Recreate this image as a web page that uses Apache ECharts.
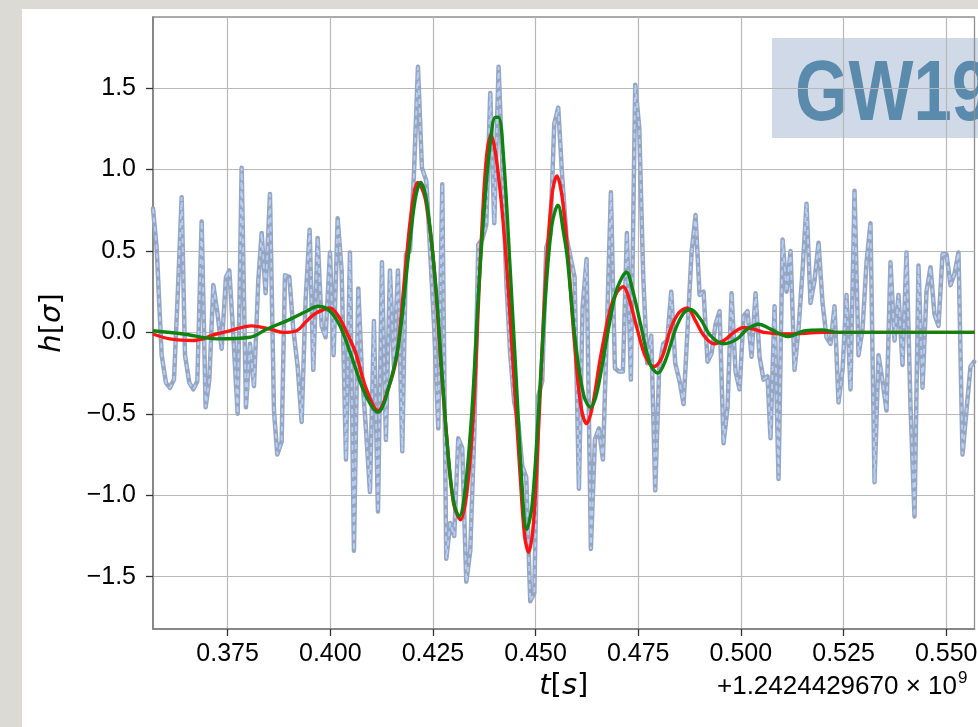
<!DOCTYPE html>
<html>
<head>
<meta charset="utf-8">
<script src="https://cdn.jsdelivr.net/npm/echarts@6/dist/echarts.min.js"></script>
<style>
  html, body { margin: 0; padding: 0; background: #dcdad4; }
  #chart { width: 978px; height: 727px; }
</style>
</head>
<body>
<div id="chart"></div>
<script>
// time offsets [s] (+1.2424429670e9) and whitened strain values
const noiseT = [
  0.35682, 0.35771, 0.35893, 0.35998, 0.36096, 0.36193, 0.36299, 0.36380, 0.36461, 0.36567,
  0.36664, 0.36761, 0.36867, 0.36964, 0.37054, 0.37151, 0.37256, 0.37354, 0.37459, 0.37541,
  0.37638, 0.37744, 0.37841, 0.37946, 0.38044, 0.38141, 0.38247, 0.38328, 0.38425, 0.38531,
  0.38628, 0.38709, 0.38815, 0.38896, 0.39002, 0.39099, 0.39205, 0.39302, 0.39399, 0.39497,
  0.39586, 0.39692, 0.39789, 0.39886, 0.39992, 0.40081, 0.40179, 0.40276, 0.40382, 0.40479,
  0.40576, 0.40682, 0.40771, 0.40868, 0.40966, 0.41063, 0.41161, 0.41258, 0.41355, 0.41453,
  0.41550, 0.41648, 0.41753, 0.41843, 0.41940, 0.42037, 0.42135, 0.42232, 0.42338, 0.42435,
  0.42532, 0.42630, 0.42727, 0.42825, 0.42922, 0.43019, 0.43117, 0.43214, 0.43312, 0.43409,
  0.43507, 0.43604, 0.43701, 0.43799, 0.43896, 0.43994, 0.44099, 0.44188, 0.44286, 0.44383,
  0.44481, 0.44578, 0.44675, 0.44773, 0.44870, 0.44968, 0.45065, 0.45162, 0.45260, 0.45357,
  0.45455, 0.45552, 0.45649, 0.45755, 0.45852, 0.45950, 0.46055, 0.46144, 0.46242, 0.46347,
  0.46445, 0.46542, 0.46640, 0.46737, 0.46834, 0.46932, 0.47029, 0.47127, 0.47224, 0.47321,
  0.47427, 0.47524, 0.47622, 0.47719, 0.47817, 0.47914, 0.48011, 0.48109, 0.48206, 0.48304,
  0.48401, 0.48507, 0.48604, 0.48701, 0.48799, 0.48896, 0.48994, 0.49091, 0.49188, 0.49286,
  0.49383, 0.49481, 0.49578, 0.49675, 0.49773, 0.49870, 0.49968, 0.50065, 0.50162, 0.50260,
  0.50357, 0.50455, 0.50552, 0.50649, 0.50722, 0.50820, 0.50917, 0.51015, 0.51112, 0.51209,
  0.51307, 0.51404, 0.51502, 0.51599, 0.51696, 0.51794, 0.51891, 0.51989, 0.52086, 0.52183,
  0.52281, 0.52378, 0.52476, 0.52573, 0.52670, 0.52768, 0.52865, 0.52963, 0.53060, 0.53157,
  0.53255, 0.53352, 0.53450, 0.53547, 0.53644, 0.53742, 0.53839, 0.53937, 0.54034, 0.54132,
  0.54229, 0.54326, 0.54424, 0.54521, 0.54619, 0.54716, 0.54813, 0.54911, 0.55008, 0.55106,
  0.55203, 0.55300, 0.55398, 0.55495, 0.55593, 0.55682
];
const noiseV = [
  0.76, 0.52, -0.14, -0.31, -0.34, -0.29, 0.32, 0.83, -0.14, -0.31,
  -0.35, -0.30, 0.68, -0.46, -0.29, 0.29, 0.11, -0.10, 0.34, 0.38,
  -0.02, -0.50, 1.01, -0.46, -0.07, -0.33, 0.32, 0.61, 0.24, 0.85,
  -0.48, -0.75, -0.67, 0.35, 0.34, 0.02, -0.21, -0.55, 0.20, 0.63,
  -0.23, 0.58, 0.04, -0.03, 0.49, -0.14, 0.70, 0.38, -0.78, 0.49,
  -1.34, 0.27, -0.25, -0.59, -0.98, 0.07, -1.10, 0.43, -0.66, 0.38,
  -0.21, 0.38, -0.73, 0.48, 0.50, 0.97, 1.63, 1.01, 0.93, 0.48,
  0.02, -0.59, 0.91, -1.39, -1.17, -1.25, -0.65, -0.71, -1.53, -1.34,
  -0.62, 0.54, 0.57, 0.66, 1.47, 0.67, 1.63, 1.04, 0.32, -0.14,
  -0.43, -0.55, -0.82, -0.89, -1.65, -1.60, -0.39, -0.30, 0.52, 0.60,
  1.28, 1.38, 0.95, 0.58, 0.46, 0.34, -0.96, 0.15, 0.45, -1.33,
  -0.66, -0.59, -0.78, 0.02, 0.86, -0.22, -0.24, -0.24, 0.61, -0.29,
  1.52, 1.26, 0.34, -0.19, -0.02, -0.97, -0.22, -0.07, -0.05, 0.25,
  -0.19, -0.30, -0.44, 0.02, 0.49, 0.72, 0.23, 0.25, -0.18, -0.13,
  0.05, 0.13, -0.68, -0.46, 0.24, -0.24, -0.35, 0.10, 0.13, -0.15,
  0.24, -0.15, -0.29, -0.27, -0.65, 0.16, -0.90, 0.57, 0.25, 0.50,
  -0.23, 0.02, 0.38, 0.79, 0.18, 0.32, 0.55, 0.18, -0.03, -0.07,
  0.16, -0.43, -0.23, 0.23, -0.35, 0.87, -0.14, 0.02, 0.43, 0.67,
  -0.92, -0.14, -0.30, -0.48, 0.43, -0.05, 0.23, -0.20, 0.49, -0.46,
  -1.13, 0.41, -0.34, 0.25, 0.40, 0.11, 0.04, 0.48, 0.48, 0.29,
  0.36, 0.49, -0.75, -0.48, -0.21, -0.18
];

const redT = [
  0.35682, 0.36096, 0.36664, 0.37232, 0.37557, 0.38084, 0.38531, 0.38856, 0.39180, 0.39424,
  0.39667, 0.39992, 0.40195, 0.40398, 0.40609, 0.40868, 0.41161, 0.41420, 0.41623, 0.41826,
  0.41989, 0.42135, 0.42313, 0.42516, 0.42679, 0.42841, 0.43003, 0.43174, 0.43328, 0.43490,
  0.43653, 0.43791, 0.43912, 0.44059, 0.44262, 0.44465, 0.44627, 0.44733, 0.44830, 0.44952,
  0.45073, 0.45236, 0.45398, 0.45520, 0.45641, 0.45771, 0.45933, 0.46096, 0.46242, 0.46380,
  0.46583, 0.46826, 0.46989, 0.47135, 0.47273, 0.47476, 0.47679, 0.47882, 0.48084, 0.48287,
  0.48490, 0.48693, 0.48896, 0.49099, 0.49343, 0.49586, 0.49830, 0.50073, 0.50317, 0.50560,
  0.51150, 0.52000, 0.53500, 0.55690
];
const redV = [
  -0.01, -0.04, -0.05, -0.01, 0.01, 0.04, 0.02, 0.00, 0.01, 0.07,
  0.12, 0.15, 0.10, 0.00, -0.12, -0.34, -0.48, -0.34, -0.14, 0.38,
  0.77, 0.92, 0.82, 0.43, -0.14, -0.66, -1.05, -1.15, -0.98, -0.48,
  0.43, 1.04, 1.21, 1.04, 0.52, -0.25, -0.89, -1.25, -1.35, -1.16,
  -0.59, 0.29, 0.84, 0.96, 0.84, 0.53, -0.02, -0.44, -0.56, -0.46,
  -0.15, 0.15, 0.25, 0.28, 0.21, 0.02, -0.15, -0.21, -0.15, 0.02,
  0.12, 0.15, 0.07, -0.02, -0.07, -0.05, 0.00, 0.03, 0.02, 0.00,
  -0.01, 0.00, 0.00, 0.00
];

const greenT = [
  0.35682, 0.36420, 0.37232, 0.38044, 0.38450, 0.39018, 0.39424, 0.39708, 0.39992, 0.40235,
  0.40479, 0.40852, 0.41161, 0.41420, 0.41664, 0.41907, 0.42070, 0.42200, 0.42354, 0.42557,
  0.42719, 0.42881, 0.43011, 0.43141, 0.43287, 0.43450, 0.43612, 0.43774, 0.43896, 0.44018,
  0.44099, 0.44221, 0.44383, 0.44546, 0.44667, 0.44781, 0.44911, 0.45073, 0.45236, 0.45398,
  0.45544, 0.45682, 0.45771, 0.45974, 0.46177, 0.46339, 0.46502, 0.46745, 0.46948, 0.47110,
  0.47216, 0.47354, 0.47557, 0.47784, 0.47979, 0.48166, 0.48409, 0.48612, 0.48774, 0.49018,
  0.49261, 0.49586, 0.49911, 0.50154, 0.50438, 0.50722, 0.51153, 0.51558, 0.51964, 0.52370,
  0.53500, 0.55690
];
const greenV = [
  0.01, -0.01, -0.04, -0.03, 0.02, 0.08, 0.13, 0.16, 0.13, 0.04,
  -0.12, -0.38, -0.49, -0.34, -0.07, 0.48, 0.82, 0.92, 0.79, 0.32,
  -0.25, -0.78, -1.05, -1.13, -0.96, -0.48, 0.25, 0.84, 1.16, 1.32,
  1.32, 1.07, 0.38, -0.37, -0.93, -1.21, -1.07, -0.48, 0.20, 0.66,
  0.78, 0.61, 0.46, -0.07, -0.39, -0.46, -0.36, -0.02, 0.24, 0.34,
  0.37, 0.27, 0.05, -0.19, -0.25, -0.17, 0.02, 0.12, 0.14, 0.08,
  -0.02, -0.07, -0.04, 0.02, 0.05, 0.02, -0.025, 0.01, 0.015, 0.00,
  0.00, 0.00
];

const xTicks = [0.375, 0.400, 0.425, 0.450, 0.475, 0.500, 0.525, 0.550];
const yTicks = [-1.5, -1.0, -0.5, 0.0, 0.5, 1.0, 1.5];

const zip = (t, v) => t.map((x, i) => [x, v[i]]);

const chart = echarts.init(document.getElementById('chart'), null, { renderer: 'canvas' });

const labelFont = '"Liberation Sans", Arial, Helvetica, sans-serif';
const mathFont = '"DejaVu Sans", sans-serif';

const option = {
  animation: false,
  backgroundColor: 'transparent',
  grid: {
    left: 153,
    top: 17,
    right: 3.5,
    bottom: 98,
    show: true,
    borderColor: '#8f8f8f',
    borderWidth: 1.3,
    backgroundColor: 'transparent',
    outerBoundsMode: 'none'
  },
  xAxis: {
    type: 'value',
    min: 0.35682,
    max: 0.5569,
    axisLine: { show: true, onZero: false, lineStyle: { color: '#7d7d7d', width: 1.6 } },
    axisTick: { show: true, inside: false, length: 7, customValues: xTicks, lineStyle: { color: '#333', width: 1.3 } },
    axisLabel: {
      customValues: xTicks,
      margin: 13,
      color: '#000',
      fontSize: 25,
      fontFamily: labelFont,
      formatter: v => v.toFixed(3)
    },
    splitLine: { show: true, lineStyle: { color: '#b8b8b8', width: 1.2 } },
    name: '{i|t}[{i|s}]',
    nameLocation: 'middle',
    nameGap: 41,
    nameTextStyle: {
      fontFamily: mathFont,
      fontSize: 29,
      color: '#000',
      rich: { i: { fontStyle: 'italic', fontFamily: mathFont, fontSize: 29, color: '#000' } }
    }
  },
  yAxis: {
    type: 'value',
    min: -1.821,
    max: 1.936,
    axisLine: { show: true, onZero: false, lineStyle: { color: '#7d7d7d', width: 1.6 } },
    axisTick: { show: true, inside: false, length: 7, customValues: yTicks, lineStyle: { color: '#333', width: 1.3 } },
    axisLabel: {
      customValues: yTicks,
      margin: 17,
      color: '#000',
      fontSize: 25,
      fontFamily: labelFont,
      formatter: v => v.toFixed(1).replace('-', '\u2212')
    },
    splitLine: { show: true, lineStyle: { color: '#b8b8b8', width: 1.2 } },
    name: '{i|h}[{i|σ}]',
    nameLocation: 'middle',
    nameRotate: 90,
    nameGap: 86,
    nameTextStyle: {
      fontFamily: mathFont,
      fontSize: 29,
      color: '#000',
      rich: { i: { fontStyle: 'italic', fontFamily: mathFont, fontSize: 29, color: '#000' } }
    }
  },
  graphic: [
    { type: 'rect', z: -20, silent: true, shape: { x: 22, y: 9, width: 960, height: 720 }, style: { fill: '#ffffff' } },
    { type: 'rect', z: -10, silent: true, shape: { x: 772, y: 38, width: 210, height: 100 }, style: { fill: '#cfd9e7' } },
    {
      type: 'text', z: -9, silent: true, x: 795, y: 96, scaleX: 0.8,
      style: {
        text: 'GW190521',
        font: 'bold 86px "Liberation Sans", Arial, sans-serif',
        fill: '#5a8bad',
        textAlign: 'left',
        textVerticalAlign: 'middle'
      }
    },
    {
      type: 'text', silent: true, x: 957, y: 687,
      style: {
        text: '+1.2424429670 \u00d7 10',
        font: '26px "Liberation Sans", Arial, sans-serif',
        fill: '#000',
        textAlign: 'right',
        textVerticalAlign: 'middle'
      }
    },
    {
      type: 'text', silent: true, x: 958, y: 678,
      style: {
        text: '9',
        font: '17px "Liberation Sans", Arial, sans-serif',
        fill: '#000',
        textAlign: 'left',
        textVerticalAlign: 'middle'
      }
    }
  ],
  series: [
    {
      name: 'data',
      type: 'line',
      data: zip(noiseT, noiseV),
      showSymbol: false,
      symbol: 'none',
      clip: true,
      lineStyle: { color: '#97a5bf', width: 4.5, join: 'round', cap: 'round' }
    },
    {
      name: 'data-dash',
      type: 'line',
      data: zip(noiseT, noiseV),
      showSymbol: false,
      symbol: 'none',
      clip: true,
      lineStyle: { color: '#b3cffb', width: 1.8, type: [5, 4] }
    },
    {
      name: 'red',
      type: 'line',
      data: zip(redT, redV),
      smooth: 0.35,
      showSymbol: false,
      symbol: 'none',
      clip: true,
      lineStyle: { color: '#ff1414', width: 3.4 }
    },
    {
      name: 'green',
      type: 'line',
      data: zip(greenT, greenV),
      smooth: 0.35,
      showSymbol: false,
      symbol: 'none',
      clip: true,
      lineStyle: { color: '#0f820f', width: 3.4 }
    }
  ]
};

chart.setOption(option);
</script>
</body>
</html>
